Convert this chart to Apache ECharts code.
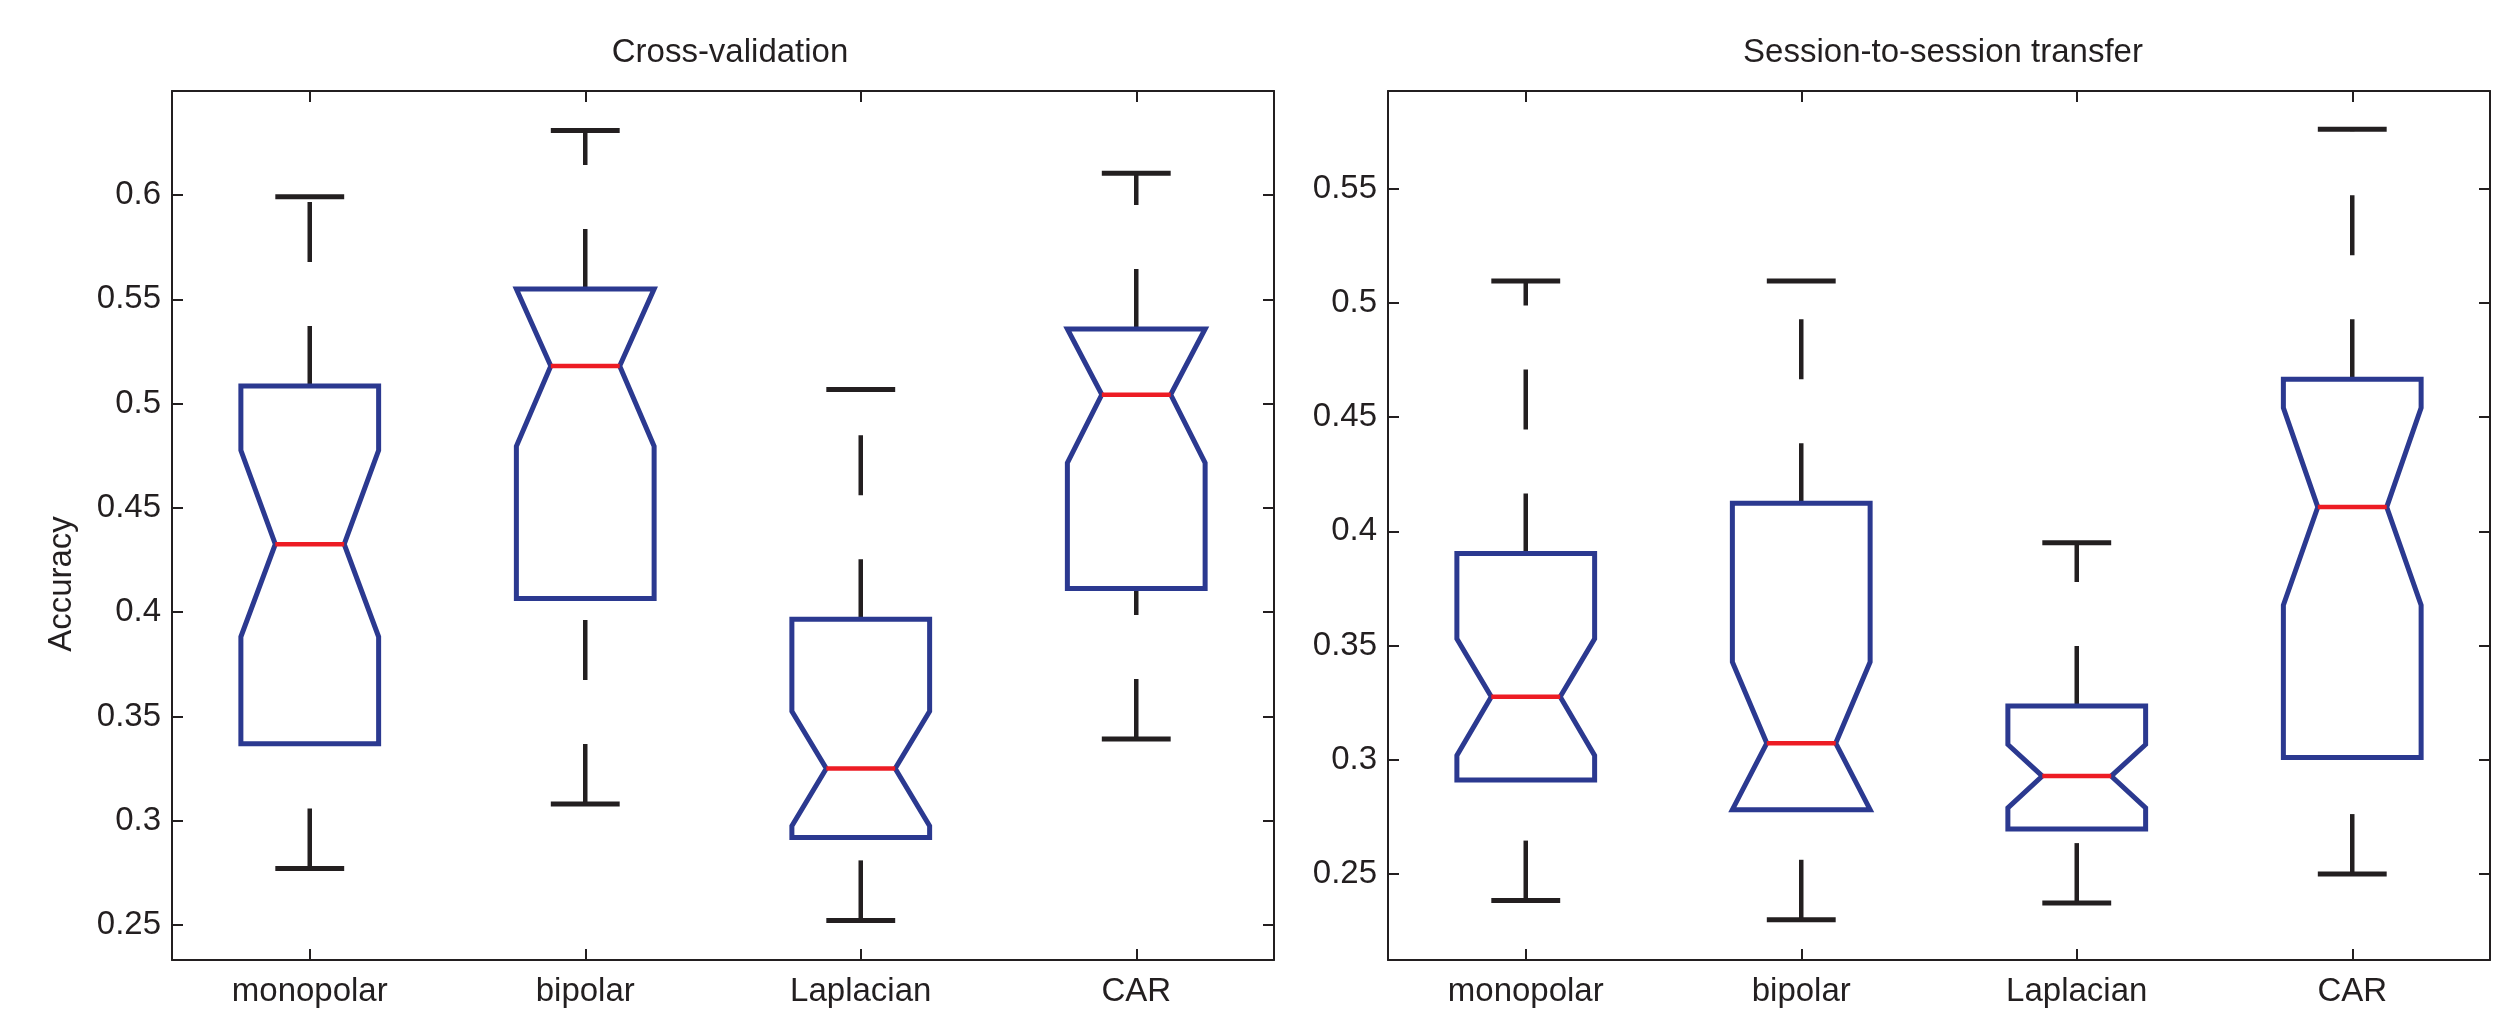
<!DOCTYPE html>
<html>
<head>
<meta charset="utf-8">
<title>Accuracy box plots</title>
<script src="https://cdn.jsdelivr.net/npm/echarts@6/dist/echarts.min.js"></script>
<style>
    html, body { margin: 0; padding: 0; background: #fff; }
    #main { width: 2502px; height: 1010px; }
</style>
</head>
<body>
<div id="main"></div>
<script>
// 类别 / tick labels
const categories = ['monopolar', 'bipolar', 'Laplacian', 'CAR'];
const cvTicks = [0.25, 0.3, 0.35, 0.4, 0.45, 0.5, 0.55, 0.6];
const stTicks = [0.25, 0.3, 0.35, 0.4, 0.45, 0.5, 0.55];

// Cross-validation (left panel)
const cvLow       = [0.2771, 0.3080, 0.2522, 0.3392];
const cvQ1        = [0.3369, 0.4065, 0.2920, 0.4114];
const cvNotchLow  = [0.3882, 0.4796, 0.2975, 0.4716];
const cvMedian    = [0.4326, 0.5180, 0.3250, 0.5043];
const cvNotchHigh = [0.4776, 0.5550, 0.3525, 0.5358];
const cvQ3        = [0.5084, 0.5550, 0.3966, 0.5358];
const cvHigh      = [0.5992, 0.6310, 0.5068, 0.6105];

// Session-to-session transfer (right panel)
const stLow       = [0.2384, 0.2300, 0.2373, 0.2500];
const stQ1        = [0.2912, 0.2782, 0.2697, 0.3010];
const stNotchLow  = [0.3019, 0.2782, 0.2790, 0.3677];
const stMedian    = [0.3276, 0.3073, 0.2929, 0.4106];
const stNotchHigh = [0.3530, 0.3428, 0.3067, 0.4540];
const stQ3        = [0.3903, 0.4123, 0.3236, 0.4665];
const stHigh      = [0.5096, 0.5096, 0.3950, 0.5760];

const INK = '#231f20';
const BLUE = '#2b3990';
const RED = '#ed1c24';
const FONT = '"Liberation Sans", Arial, sans-serif';
const FONT_SIZE = 33;

function rows(low, q1, nlo, med, nhi, q3, high) {
    return categories.map(function (c, i) {
        return [i, low[i], q1[i], nlo[i], med[i], nhi[i], q3[i], high[i]];
    });
}

// notched box + dashed whiskers, like matlab boxplot('notch','on')
function renderNotchBox(params, api) {
    let i = api.value(0);
    let band = api.size([1, 0])[0];
    let half = band * 0.25;
    let quarter = band * 0.125;
    let cx = api.coord([i, api.value(4)])[0];
    let y = function (k) { return api.coord([i, api.value(k)])[1]; };
    let low = y(1), q1 = y(2), nlo = y(3), med = y(4), nhi = y(5), q3 = y(6), high = y(7);

    let whisker = { stroke: INK, lineWidth: 4.5, lineDash: [60, 64], fill: null };
    let cap = { stroke: INK, lineWidth: 5, fill: null };

    return {
        type: 'group',
        children: [
            { type: 'line', shape: { x1: cx, y1: low, x2: cx, y2: q1 }, style: whisker },
            { type: 'line', shape: { x1: cx, y1: q3, x2: cx, y2: high }, style: whisker },
            { type: 'line', shape: { x1: cx - quarter, y1: low, x2: cx + quarter, y2: low }, style: cap },
            { type: 'line', shape: { x1: cx - quarter, y1: high, x2: cx + quarter, y2: high }, style: cap },
            {
                type: 'polygon',
                shape: {
                    points: [
                        [cx - half, q1], [cx + half, q1], [cx + half, nlo],
                        [cx + quarter, med], [cx + half, nhi], [cx + half, q3],
                        [cx - half, q3], [cx - half, nhi], [cx - quarter, med],
                        [cx - half, nlo]
                    ]
                },
                style: { stroke: BLUE, lineWidth: 5, fill: null, lineJoin: 'miter' }
            },
            { type: 'line', shape: { x1: cx - quarter, y1: med, x2: cx + quarter, y2: med }, style: { stroke: RED, lineWidth: 4.5, fill: null } }
        ]
    };
}

function xAxes(gridIndex) {
    let line = { show: true, lineStyle: { color: INK, width: 2 } };
    let tick = { show: true, inside: true, length: 11, alignWithLabel: true, lineStyle: { color: INK, width: 2 } };
    return [
        {
            type: 'category', gridIndex: gridIndex, position: 'bottom', data: categories,
            axisLine: line, axisTick: tick,
            axisLabel: { color: INK, fontSize: FONT_SIZE, fontFamily: FONT, margin: 15 },
            splitLine: { show: false }
        },
        {
            type: 'category', gridIndex: gridIndex, position: 'top', data: categories,
            axisLine: line, axisTick: tick, axisLabel: { show: false },
            splitLine: { show: false }
        }
    ];
}

function yAxes(gridIndex, min, max, ticks) {
    let line = { show: true, onZero: false, lineStyle: { color: INK, width: 2 } };
    let tick = { show: true, inside: true, length: 11, customValues: ticks, lineStyle: { color: INK, width: 2 } };
    return [
        {
            type: 'value', gridIndex: gridIndex, position: 'left', min: min, max: max,
            axisLine: line, axisTick: tick,
            axisLabel: { color: INK, fontSize: FONT_SIZE, fontFamily: FONT, margin: 11, customValues: ticks },
            splitLine: { show: false }
        },
        {
            type: 'value', gridIndex: gridIndex, position: 'right', min: min, max: max,
            axisLine: line, axisTick: tick, axisLabel: { show: false },
            splitLine: { show: false }
        }
    ];
}

let chartDom = document.getElementById('main');
let chart = echarts.init(chartDom);

let titleStyle = { color: INK, fontSize: FONT_SIZE, fontWeight: 'normal', fontFamily: FONT };

let option = {
    backgroundColor: '#fff',
    animation: false,
    title: [
        { text: 'Cross-validation', left: 730, top: 36, padding: 0, textAlign: 'center', textStyle: titleStyle },
        { text: 'Session-to-session transfer', left: 1943, top: 36, padding: 0, textAlign: 'center', textStyle: titleStyle }
    ],
    grid: [
        { left: 172, top: 91, width: 1102, height: 869, containLabel: false, outerBoundsMode: 'none' },
        { left: 1388, top: 91, width: 1102, height: 869, containLabel: false, outerBoundsMode: 'none' }
    ],
    xAxis: xAxes(0).concat(xAxes(1)),
    yAxis: yAxes(0, 0.2332, 0.6499, cvTicks).concat(yAxes(1, 0.2124, 0.5927, stTicks)),
    graphic: [
        {
            type: 'text', x: 62, y: 584, rotation: Math.PI / 2,
            style: { text: 'Accuracy', fill: INK, font: FONT_SIZE + 'px ' + FONT, align: 'center', verticalAlign: 'middle' }
        }
    ],
    series: [
        {
            name: 'Cross-validation', type: 'custom', xAxisIndex: 0, yAxisIndex: 0,
            renderItem: renderNotchBox,
            encode: { x: 0, y: [1, 2, 3, 4, 5, 6, 7] },
            data: rows(cvLow, cvQ1, cvNotchLow, cvMedian, cvNotchHigh, cvQ3, cvHigh)
        },
        {
            name: 'Session-to-session transfer', type: 'custom', xAxisIndex: 2, yAxisIndex: 2,
            renderItem: renderNotchBox,
            encode: { x: 0, y: [1, 2, 3, 4, 5, 6, 7] },
            data: rows(stLow, stQ1, stNotchLow, stMedian, stNotchHigh, stQ3, stHigh)
        }
    ]
};

option && chart.setOption(option);
</script>
</body>
</html>
